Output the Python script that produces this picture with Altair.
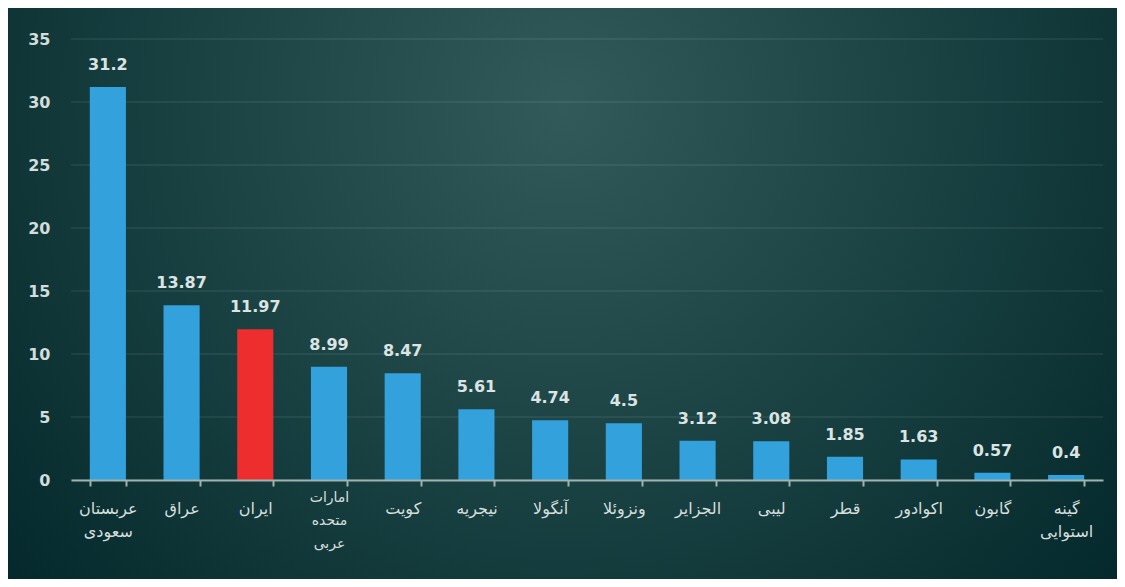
import altair as alt
import pandas as pd

countries = [
    "عربستان\nسعودی", "عراق", "ایران", "امارات\nمتحده\nعربی", "کویت", "نیجریه",
    "آنگولا", "ونزوئلا", "الجزایر", "لیبی", "قطر", "اکوادور", "گابون", "گینه\nاستوایی",
]
values = [31.2, 13.87, 11.97, 8.99, 8.47, 5.61, 4.74, 4.5, 3.12, 3.08, 1.85, 1.63, 0.57, 0.4]
y_ticks = [0, 5, 10, 15, 20, 25, 30, 35]

df = pd.DataFrame({"name": countries, "value": values})
grid_df = pd.DataFrame({"t": y_ticks})

W, H = 1032, 441
PL, PT, PR, PB = 63, 31, 14, 99

bg = alt.Chart(pd.DataFrame({"a": [0]})).mark_rect(
    fill={
        "gradient": "radial",
        "x1": 0.5, "y1": 0.33, "r1": 0,
        "x2": 0.5, "y2": 0.33, "r2": 0.68,
        "stops": [
            {"offset": 0, "color": "#325a5b"},
            {"offset": 0.45, "color": "#1c4445"},
            {"offset": 1, "color": "#03272a"},
        ],
    }
).encode(
    x=alt.value(-PL), x2=alt.value(W + PR),
    y=alt.value(-PT), y2=alt.value(H + PB),
)

y_scale = alt.Scale(domain=[0, 35], nice=False)

grid = alt.Chart(grid_df).mark_rule(color="#ffffff", opacity=0.13, strokeWidth=1).encode(
    y=alt.Y("t:Q", scale=y_scale),
    x=alt.value(0), x2=alt.value(W),
)

EMIR = "isString(datum.value) && indexof(datum.value, 'امارات') >= 0"

x_enc = alt.X(
    "name:N", sort=None, title=None,
    scale=alt.Scale(paddingInner=0.51, paddingOuter=0.255),
    axis=alt.Axis(
        labelAngle=0,
        labelExpr="isString(datum.value) ? split(datum.value, '\\n') : ''",
        labelFont="DejaVu Sans",
        labelFontSize={"condition": {"test": EMIR, "value": 14}, "value": 16},
        labelPadding={"condition": {"test": EMIR, "value": 4}, "value": 14},
        labelLineHeight=23,
        labelColor="#d6dfde",
        domainColor="#9fb3b0", domainWidth=2,
        tickColor="#9fb3b0", tickWidth=2, tickSize=6,
        tickBand="extent",
        grid=False,
        zindex=1,
    ),
)

y_enc = alt.Y(
    "value:Q", title=None,
    scale=y_scale,
    axis=alt.Axis(
        values=y_ticks,
        labelFont="DejaVu Sans", labelFontWeight="bold", labelFontSize=16,
        labelColor="#d3dddc", labelPadding=21,
        domain=False, ticks=False, grid=False,
        zindex=1,
    ),
)

bars = alt.Chart(df).mark_bar().encode(
    x=x_enc, y=y_enc,
    color=alt.condition(alt.datum.name == "ایران", alt.value("#ee2e2e"), alt.value("#33a1dc")),
)

text = alt.Chart(df).mark_text(
    dy=-17, baseline="alphabetic", font="DejaVu Sans", fontWeight="bold", fontSize=16, color="#dbe4e3"
).encode(
    x=alt.X("name:N", sort=None),
    y=alt.Y("value:Q"),
    text=alt.Text("value:Q"),
)

chart = alt.layer(bg, grid, bars, text).properties(
    width=W, height=H,
    autosize=alt.AutoSizeParams(type="none"),
    padding={"left": PL, "top": PT, "right": PR, "bottom": PB},
    background="#052a2b",
).configure_view(stroke=None)

chart.save("out.html", embed_options={"renderer": "svg", "actions": False})
